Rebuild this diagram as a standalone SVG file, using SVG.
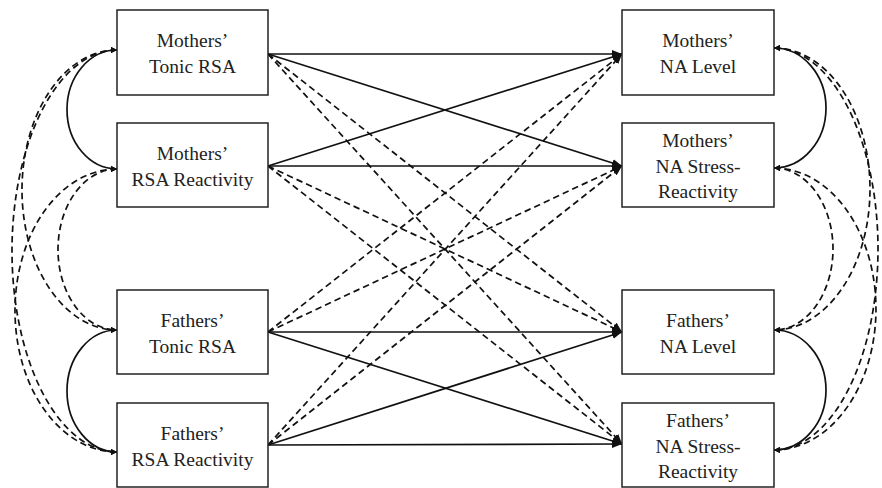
<svg xmlns="http://www.w3.org/2000/svg" width="882" height="488" viewBox="0 0 882 488">
<defs>
<marker id="ah" markerUnits="userSpaceOnUse" markerWidth="10" markerHeight="8" refX="10" refY="4" orient="auto">
<path d="M0,0 L10,4 L0,8 Z" fill="#111"/>
</marker>
<marker id="sh" markerUnits="userSpaceOnUse" markerWidth="6" markerHeight="6" refX="6" refY="3" orient="auto-start-reverse">
<path d="M0,0 L6,3 L0,6 Z" fill="#111"/>
</marker>
<style>
.box{fill:#fff;stroke:#222;stroke-width:1.5}
.lbl{font-family:"Liberation Serif","DejaVu Serif",serif;font-size:19.5px;fill:#222;text-anchor:middle}
.sol{fill:none;stroke:#111;stroke-width:1.7}
.das{fill:none;stroke:#111;stroke-width:1.7;stroke-dasharray:6.5 4}
.arr{marker-end:url(#ah)}
.cov{marker-start:url(#sh);marker-end:url(#sh)}
</style>
</defs>
<rect width="882" height="488" fill="#fff"/>
<g id="connectors">
<line class="sol arr" x1="268" y1="54" x2="622" y2="54"/>
<line class="sol arr" x1="268" y1="54" x2="622" y2="166"/>
<line class="sol arr" x1="268" y1="166" x2="622" y2="54"/>
<line class="sol arr" x1="268" y1="166" x2="622" y2="166"/>
<line class="sol arr" x1="268" y1="332" x2="622" y2="332"/>
<line class="sol arr" x1="268" y1="332" x2="622" y2="444"/>
<line class="sol arr" x1="268" y1="445" x2="622" y2="332"/>
<line class="sol arr" x1="268" y1="445" x2="622" y2="444"/>
<line class="das arr" x1="268" y1="54" x2="622" y2="332"/>
<line class="das arr" x1="268" y1="54" x2="622" y2="444"/>
<line class="das arr" x1="268" y1="166" x2="622" y2="332"/>
<line class="das arr" x1="268" y1="166" x2="622" y2="444"/>
<line class="das arr" x1="268" y1="332" x2="622" y2="54"/>
<line class="das arr" x1="268" y1="332" x2="622" y2="166"/>
<line class="das arr" x1="268" y1="445" x2="622" y2="54"/>
<line class="das arr" x1="268" y1="445" x2="622" y2="166"/>
<path class="sol cov" d="M117,50 A50,59.5 0 0 0 117,169"/>
<path class="sol cov" d="M117,330 A50,61 0 0 0 117,452"/>
<path class="das cov" d="M117,50 A95,140 0 0 0 117,330"/>
<path class="das cov" d="M117,50 A105,201 0 0 0 117,452"/>
<path class="das cov" d="M117,169 A59,80.5 0 0 0 117,330"/>
<path class="das cov" d="M117,169 A102,141.5 0 0 0 117,452"/>
<path class="sol cov" d="M774,48 A52,60 0 0 1 774,168"/>
<path class="sol cov" d="M774,330 A52,60 0 0 1 774,450"/>
<path class="das cov" d="M774,48 A96,141 0 0 1 774,330"/>
<path class="das cov" d="M774,48 A104,201 0 0 1 774,450"/>
<path class="das cov" d="M774,168 A59,81 0 0 1 774,330"/>
<path class="das cov" d="M774,168 A102,141 0 0 1 774,450"/>
</g>
<g id="mothers-tonic-rsa">
<rect class="box" x="117" y="10" width="151" height="85"/>
<text class="lbl" x="192.5" y="47">Mothers’</text>
<text class="lbl" x="192.5" y="73">Tonic RSA</text>
</g>
<g id="mothers-rsa-reactivity">
<rect class="box" x="117" y="123" width="151" height="84"/>
<text class="lbl" x="192.5" y="160">Mothers’</text>
<text class="lbl" x="192.5" y="186">RSA Reactivity</text>
</g>
<g id="fathers-tonic-rsa">
<rect class="box" x="117" y="290" width="151" height="84"/>
<text class="lbl" x="192.5" y="327">Fathers’</text>
<text class="lbl" x="192.5" y="353">Tonic RSA</text>
</g>
<g id="fathers-rsa-reactivity">
<rect class="box" x="117" y="403" width="151" height="84"/>
<text class="lbl" x="192.5" y="440">Fathers’</text>
<text class="lbl" x="192.5" y="466">RSA Reactivity</text>
</g>
<g id="mothers-na-level">
<rect class="box" x="622" y="10" width="152" height="85"/>
<text class="lbl" x="698" y="47">Mothers’</text>
<text class="lbl" x="698" y="73">NA Level</text>
</g>
<g id="mothers-na-stress-reactivity">
<rect class="box" x="622" y="123" width="152" height="84"/>
<text class="lbl" x="698" y="147">Mothers’</text>
<text class="lbl" x="698" y="173">NA Stress-</text>
<text class="lbl" x="698" y="198">Reactivity</text>
</g>
<g id="fathers-na-level">
<rect class="box" x="622" y="290" width="152" height="84"/>
<text class="lbl" x="698" y="327">Fathers’</text>
<text class="lbl" x="698" y="353">NA Level</text>
</g>
<g id="fathers-na-stress-reactivity">
<rect class="box" x="622" y="403" width="152" height="84"/>
<text class="lbl" x="698" y="427">Fathers’</text>
<text class="lbl" x="698" y="453">NA Stress-</text>
<text class="lbl" x="698" y="478">Reactivity</text>
</g>
</svg>
